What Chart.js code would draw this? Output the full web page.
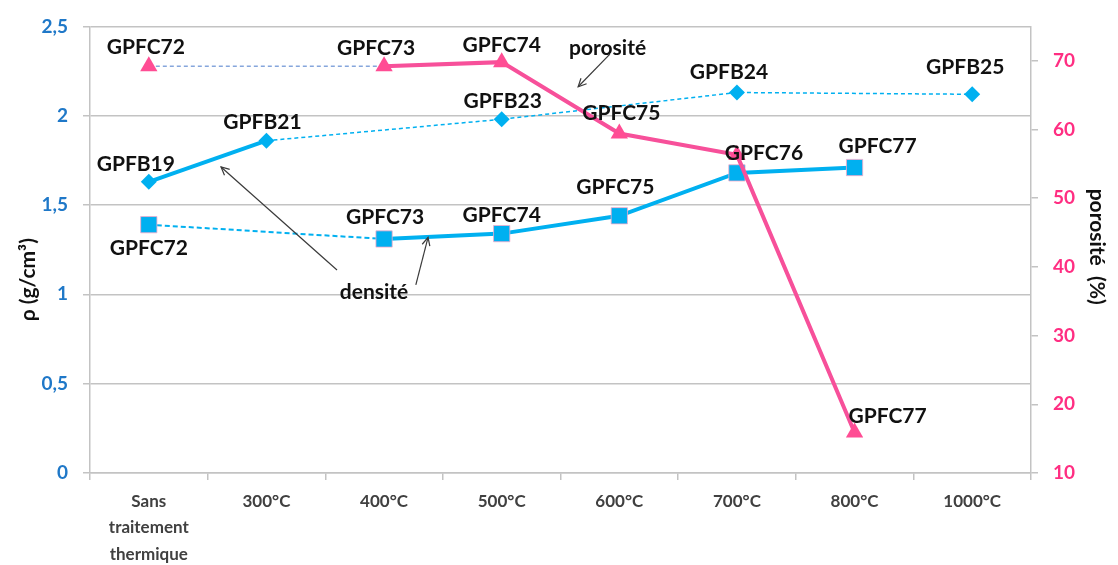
<!DOCTYPE html>
<html><head><meta charset="utf-8">
<script src="https://cdn.jsdelivr.net/npm/chart.js@4.4.1/dist/chart.umd.min.js"></script>
<style>html,body{margin:0;padding:0;background:#fff}#wrap{width:1118px;height:565px;position:relative}</style>
</head><body><div id="wrap"><canvas id="c" width="1118" height="565" style="width:1118px;height:565px"></canvas></div>
<script>
// ---- data ----
const categories = [['Sans','traitement','thermique'],'300°C','400°C','500°C','600°C','700°C','800°C','1000°C'];
const densityGPFB   = [1.63, 1.86, null, 1.98, null, 2.13, null, 2.12];
const densityGPFC   = [1.39, null, 1.31, 1.34, 1.44, 1.68, 1.71, null];
const porosityGPFC  = [69.2, null, 69.2, 69.8, 59.4, 56.3, 15.9, null];
const namesGPFB     = ['GPFB19','GPFB21',null,'GPFB23',null,'GPFB24',null,'GPFB25'];
const namesGPFCdens = ['GPFC72',null,'GPFC73','GPFC74','GPFC75','GPFC76','GPFC77',null];
const namesGPFCpor  = ['GPFC72',null,'GPFC73','GPFC74','GPFC75',null,'GPFC77',null];
const leftTicks  = [0, 0.5, 1, 1.5, 2, 2.5];
const rightTicks = [10, 20, 30, 40, 50, 60, 70];
const leftTitle  = 'ρ (g/cm³)';
const rightTitle = 'porosité  (%)';

const FONT = 'Lato, "Liberation Sans", sans-serif';
const BLUE = '#00B0F0';
const PINK = '#F7509A';
const GRID = '#C3C3C3';

// label offsets (pixels from the point)
const offGPFB = [[-13,-18],[-4,-18],null,[1,-18],null,[-8,-20],null,[-7,-27]];
const offGPFCd = [[0,24],null,[1,-22],[0,-18],[-4,-29],[27,-20],[23,-21],null];
const offGPFCp = [[-3,-19],null,[-8,-18],[0,-17],[2,-20],null,[33,-16],null];

const pointLabels = {
  id: 'pointLabels',
  afterDatasetsDraw(chart) {
    const ctx = chart.ctx;
    ctx.save();
    ctx.font = 'bold 21px ' + FONT;
    ctx.fillStyle = '#111';
    ctx.textAlign = 'center';
    ctx.textBaseline = 'middle';
    chart.data.datasets.forEach((ds, di) => {
      const meta = chart.getDatasetMeta(di);
      ds.names.forEach((n, i) => {
        if (!n) return;
        const el = meta.data[i];
        const o = ds.offsets[i];
        ctx.fillText(n, el.x + o[0], el.y + o[1]);
      });
    });
    // annotations in data coordinates (category index, left-axis value)
    const xs = chart.scales.x, ys = chart.scales.y;
    const X = v => xs.getPixelForValue(0) + v * (xs.getPixelForValue(1) - xs.getPixelForValue(0));
    const Y = v => ys.getPixelForValue(v);
    ctx.font = 'bold 21px ' + FONT;
    ctx.fillText('porosité', X(3.9), Y(2.378));
    ctx.fillText('densité', X(1.915), Y(1.014));
    const arrow = (x0, y0, x1, y1) => {
      const a = X(x0), b = Y(y0), c = X(x1), d = Y(y1);
      ctx.strokeStyle = '#3a3a3a';
      ctx.lineWidth = 1.2;
      ctx.beginPath(); ctx.moveTo(a, b); ctx.lineTo(c, d); ctx.stroke();
      const ang = Math.atan2(d - b, c - a), L = 9, s = 0.45;
      ctx.beginPath();
      ctx.moveTo(c - L * Math.cos(ang - s), d - L * Math.sin(ang - s));
      ctx.lineTo(c, d);
      ctx.lineTo(c - L * Math.cos(ang + s), d - L * Math.sin(ang + s));
      ctx.stroke();
    };
    arrow(3.92, 2.345, 3.65, 2.162);
    arrow(1.60, 1.136, 0.614, 1.713);
    arrow(2.27, 1.053, 2.374, 1.319);
    // axis titles
    const ca = chart.chartArea;
    ctx.font = 'bold 21px ' + FONT;
    ctx.fillStyle = '#111';
    ctx.save();
    ctx.translate(ca.left - 62, (ca.top + ca.bottom) / 2 + 30);
    ctx.rotate(-Math.PI / 2);
    ctx.fillText(leftTitle, 0, 0);
    ctx.restore();
    ctx.save();
    ctx.translate(ca.right + 66, (ca.top + ca.bottom) / 2 - 3);
    ctx.rotate(Math.PI / 2);
    ctx.fillText(rightTitle, 0, 0);
    ctx.restore();
    ctx.restore();
  }
};

// style for the first connection of a dataset (first point to second existing point)
const firstSeg = (a, b) => c => {
  const d = c.chart.data.datasets[c.datasetIndex].data;
  let n = 0, second = -1;
  for (let k = 0; k < d.length; k++) {
    if (d[k] != null) { n++; if (n === 2) { second = k; break; } }
  }
  return c.p1DataIndex <= second ? a : b;
};

new Chart(document.getElementById('c'), {
  type: 'line',
  data: {
    labels: categories,
    datasets: [
      {
        label: 'porosité', data: porosityGPFC, yAxisID: 'y1', order: 0,
        names: namesGPFCpor, offsets: offGPFCp,
        borderColor: PINK, borderWidth: 4, spanGaps: true,
        pointStyle: 'triangle', pointRadius: 10, pointBackgroundColor: '#FF4D94', pointBorderWidth: 0,
        segment: {
          borderDash: firstSeg([4, 3], undefined),
          borderWidth: firstSeg(1.5, undefined),
          borderColor: firstSeg('#86A6DC', undefined)
        }
      },
      {
        label: 'densité GPFC', data: densityGPFC, yAxisID: 'y', order: 1,
        names: namesGPFCdens, offsets: offGPFCd,
        borderColor: BLUE, borderWidth: 4, spanGaps: true,
        pointStyle: 'rect', pointRadius: 11.5, pointBackgroundColor: BLUE, pointBorderColor: '#F6A9C9', pointBorderWidth: 0.8,
        segment: {
          borderDash: firstSeg([5, 3], undefined),
          borderWidth: firstSeg(2, undefined)
        }
      },
      {
        label: 'densité GPFB', data: densityGPFB, yAxisID: 'y', order: 2,
        names: namesGPFB, offsets: offGPFB,
        borderColor: BLUE, borderWidth: 1.5, spanGaps: true,
        borderDash: [4, 3],
        pointStyle: 'rectRot', pointRadius: 8, pointBackgroundColor: BLUE, pointBorderWidth: 0,
        segment: {
          borderDash: firstSeg([], undefined),
          borderWidth: firstSeg(4, undefined)
        }
      }
    ]
  },
  options: {
    responsive: false,
    animation: false,
    devicePixelRatio: 1,
    layout: { padding: { top: 22, left: 0, right: 0, bottom: 0 } },
    plugins: { legend: { display: false }, tooltip: { enabled: false } },
    scales: {
      x: {
        offset: true,
        grid: { drawOnChartArea: false, offset: true, tickLength: 7, color: GRID, lineWidth: 1.5 },
        border: { color: GRID, width: 1.5 },
        ticks: { color: '#404040', font: { family: FONT, size: 17, weight: 'bold', lineHeight: 1.53 }, padding: 9, maxRotation: 0, autoSkip: false },
        afterFit: s => { s.height = 92; }
      },
      y: {
        position: 'left', min: 0, max: 2.5,
        afterBuildTicks: s => { s.ticks = leftTicks.map(v => ({ value: v })); },
        grid: { color: GRID, lineWidth: 1.5, tickLength: 7 },
        border: { color: GRID, width: 1.5 },
        ticks: { color: '#1F78C8', font: { family: FONT, size: 19, weight: 'bold' }, padding: 15,
                 callback: v => String(v).replace('.', ',') },
        afterFit: s => { s.width = 90; }
      },
      y1: {
        position: 'right', min: 10, max: 75,
        afterBuildTicks: s => { s.ticks = rightTicks.map(v => ({ value: v })); },
        grid: { drawOnChartArea: false, color: GRID, lineWidth: 1.5, tickLength: 7 },
        border: { color: GRID, width: 1.5 },
        ticks: { color: '#FF2E82', font: { family: FONT, size: 19, weight: 'bold' }, padding: 15 },
        afterFit: s => { s.width = 87; }
      }
    }
  },
  plugins: [pointLabels]
});
</script>
</body></html>
